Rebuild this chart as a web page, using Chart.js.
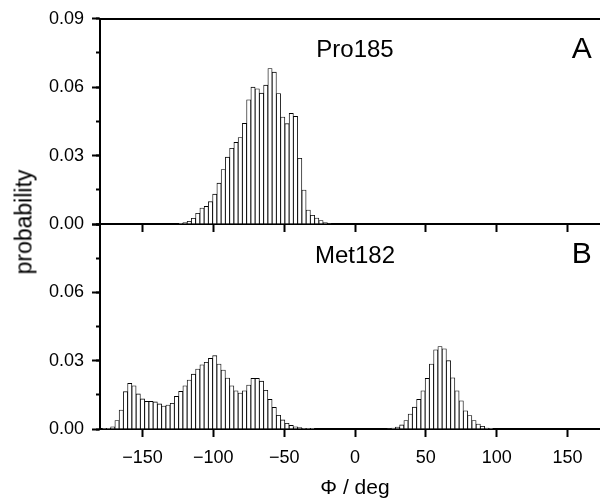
<!DOCTYPE html>
<html>
<head>
<meta charset="utf-8">
<script src="https://cdn.jsdelivr.net/npm/chart.js@4.4.1/dist/chart.umd.min.js"></script>
<style>
  html, body { margin: 0; padding: 0; background: #fff; overflow: hidden; }
  #wrap { position: relative; width: 600px; height: 499px; overflow: hidden; background: #fff; }
  #wrap canvas { position: absolute; left: 0; top: 0; }
  #ytitle {
    position: absolute; left: 23.5px; top: 221.5px;
    transform: translate(-50%, -50%) rotate(-90deg);
    font: 23px 'Liberation Sans', Arial, Helvetica, sans-serif;
    color: #000; white-space: nowrap; line-height: 1;
  }
</style>
</head>
<body>
<div id="wrap">
  <canvas id="cTop" width="610" height="499"></canvas>
  <canvas id="cBot" width="610" height="499"></canvas>
  <div id="ytitle">probability</div>
</div>
<script>
// ---------------- data (bin centres in degrees, probabilities) ----------------
const phiPro = [-123,-120,-117,-114,-111,-108,-105,-102,-99,-96,-93,-90,-87,-84,-81,-78,-75,-72,-69,-66,
                -63,-60,-57,-54,-51,-48,-45,-42,-39,-36,-33,-30,-27,-24,-21,-18];
const probPro = [0.0003,0.0006,0.0012,0.0025,0.0047,0.0070,0.0077,0.0098,0.0131,0.0179,0.0239,0.0293,0.0332,0.0358,0.0379,0.0441,0.0545,0.0600,0.0593,0.0574,
                 0.0609,0.0682,0.0666,0.0572,0.0469,0.0440,0.0485,0.0472,0.0288,0.0149,0.0061,0.0038,0.0026,0.0015,0.0006,0.0002];

const phiMet = [-177,-174,-171,-168,-165,-162,-159,-156,-153,-150,-147,-144,-141,-138,-135,-132,-129,-126,-123,-120,
                -117,-114,-111,-108,-105,-102,-99,-96,-93,-90,-87,-84,-81,-78,-75,-72,-69,-66,-63,-60,
                -57,-54,-51,-48,-45,-42,-39,-36,-33,-30,
                24,27,30,33,36,39,42,45,48,51,54,57,60,63,66,69,72,75,78,81,84,87,90,93,96];
const probMet = [0.0001,0.0003,0.0010,0.0037,0.0083,0.0164,0.0200,0.0190,0.0154,0.0132,0.0121,0.0121,0.0119,0.0110,0.0101,0.0105,0.0113,0.0143,0.0165,0.0190,
                 0.0215,0.0241,0.0263,0.0282,0.0293,0.0310,0.0322,0.0285,0.0259,0.0224,0.0190,0.0168,0.0158,0.0168,0.0193,0.0222,0.0222,0.0210,0.0170,0.0130,
                 0.0095,0.0060,0.0040,0.0025,0.0016,0.0010,0.0006,0.0003,0.0001,0.0001,
                 0.0002,0.0004,0.0008,0.0018,0.0037,0.0066,0.0096,0.0130,0.0168,0.0222,0.0285,0.0348,0.0362,0.0352,0.0300,0.0225,0.0168,0.0124,0.0080,0.0059,0.0037,0.0022,0.0012,0.0004,0.0001];

const xTickStep = 50;          // x tick labels: -150 ... 150
const yMajorStep = 0.03;       // 0.00, 0.03, 0.06, 0.09
const yMinorStep = 0.015;
const xRange = [-180, 180];
const yRange = [0, 0.09];

// ---------------- styling ----------------
const FONT = "'Liberation Sans', Arial, Helvetica, sans-serif";
Chart.defaults.font.family = FONT;
Chart.defaults.color = '#000';

const panelLabels = {
  id: 'panelLabels',
  afterDraw(chart, args, o) {
    const { ctx, chartArea, scales } = chart;
    ctx.save();
    ctx.fillStyle = '#000';
    ctx.textAlign = 'center';
    ctx.textBaseline = 'alphabetic';
    ctx.font = '24px ' + FONT;
    ctx.fillText(o.name, scales.x.getPixelForValue(o.nameAt), chartArea.top + o.dy);
    ctx.font = '30px ' + FONT;
    ctx.fillText(o.letter, scales.x.getPixelForValue(o.letterAt), chartArea.top + o.dy + 0.5);
    ctx.restore();
  }
};

function minusFmt(v) { return v < 0 ? '\u2212' + Math.abs(v) : String(v); }

function makePanel(id, xs, ys, opts) {
  const pts = xs.map((x, i) => ({ x: x, y: ys[i] }));
  const scales = {
    x: {
      type: 'linear', position: 'bottom', min: xRange[0], max: xRange[1], offset: false,
      ticks: {
        display: opts.xLabels, stepSize: xTickStep, includeBounds: false, autoSkip: false, maxRotation: 0,
        font: { size: 18 }, color: '#000', padding: 10, callback: minusFmt
      },
      grid: { drawOnChartArea: false, offset: false, tickLength: 8, tickWidth: 2, tickColor: '#000' },
      border: { color: '#000', width: 2 },
      title: opts.xLabels ? { display: true, text: '\u03A6 / deg', color: '#000', font: { size: 21, lineHeight: 1 }, padding: 0 } : { display: false },
      afterFit: s => { s.height = opts.xHeight; }
    },
    y: {
      position: 'left', weight: 1, min: yRange[0], max: yRange[1],
      ticks: {
        stepSize: yMajorStep, font: { size: 18 }, color: '#000', padding: 8,
        callback: v => (opts.hideTopLabel && v > yRange[1] - 1e-6) ? '' : v.toFixed(2)
      },
      grid: { drawOnChartArea: false, tickLength: 8, tickWidth: 2, tickColor: '#000' },
      border: { color: '#000', width: 2 },
      afterFit: s => { s.width = 100; }
    },
    yMinor: {
      position: 'left', weight: 0, min: yRange[0], max: yRange[1], display: true,
      ticks: { display: false, stepSize: yMinorStep },
      grid: { drawOnChartArea: false, tickLength: 4, tickWidth: 2, tickColor: '#000' },
      border: { display: false },
      afterFit: s => { s.width = 0; }
    }
  };
  if (opts.topBorder) {
    scales.xTop = {
      type: 'linear', position: 'top', min: xRange[0], max: xRange[1], display: true,
      ticks: { display: false }, grid: { display: false },
      border: { color: '#000', width: 2 },
      afterFit: s => { s.height = 0; }
    };
  }
  return new Chart(document.getElementById(id), {
    type: 'bar',
    data: {
      datasets: [{
        data: pts,
        backgroundColor: '#fff',
        borderColor: '#000',
        borderWidth: 0.85,
        barPercentage: 1,
        categoryPercentage: 1
      }]
    },
    options: {
      responsive: false,
      animation: false,
      devicePixelRatio: 1,
      layout: { padding: opts.padding },
      plugins: {
        legend: { display: false },
        tooltip: { enabled: false },
        panelLabels: opts.labels
      },
      scales: scales
    },
    plugins: [panelLabels]
  });
}

makePanel('cTop', phiPro, probPro, {
  xLabels: false, xHeight: 10, topBorder: true, hideTopLabel: false,
  padding: { top: 18, left: 0, right: 0, bottom: 499 - 224 - 10 },
  labels: { name: 'Pro185', nameAt: 0, letter: 'A', letterAt: 160, dy: 38.5 }
});
makePanel('cBot', phiMet, probMet, {
  xLabels: true, xHeight: 70, topBorder: false, hideTopLabel: true,
  padding: { top: 224, left: 0, right: 0, bottom: 0 },
  labels: { name: 'Met182', nameAt: 0, letter: 'B', letterAt: 160, dy: 38.5 }
});
</script>
</body>
</html>
